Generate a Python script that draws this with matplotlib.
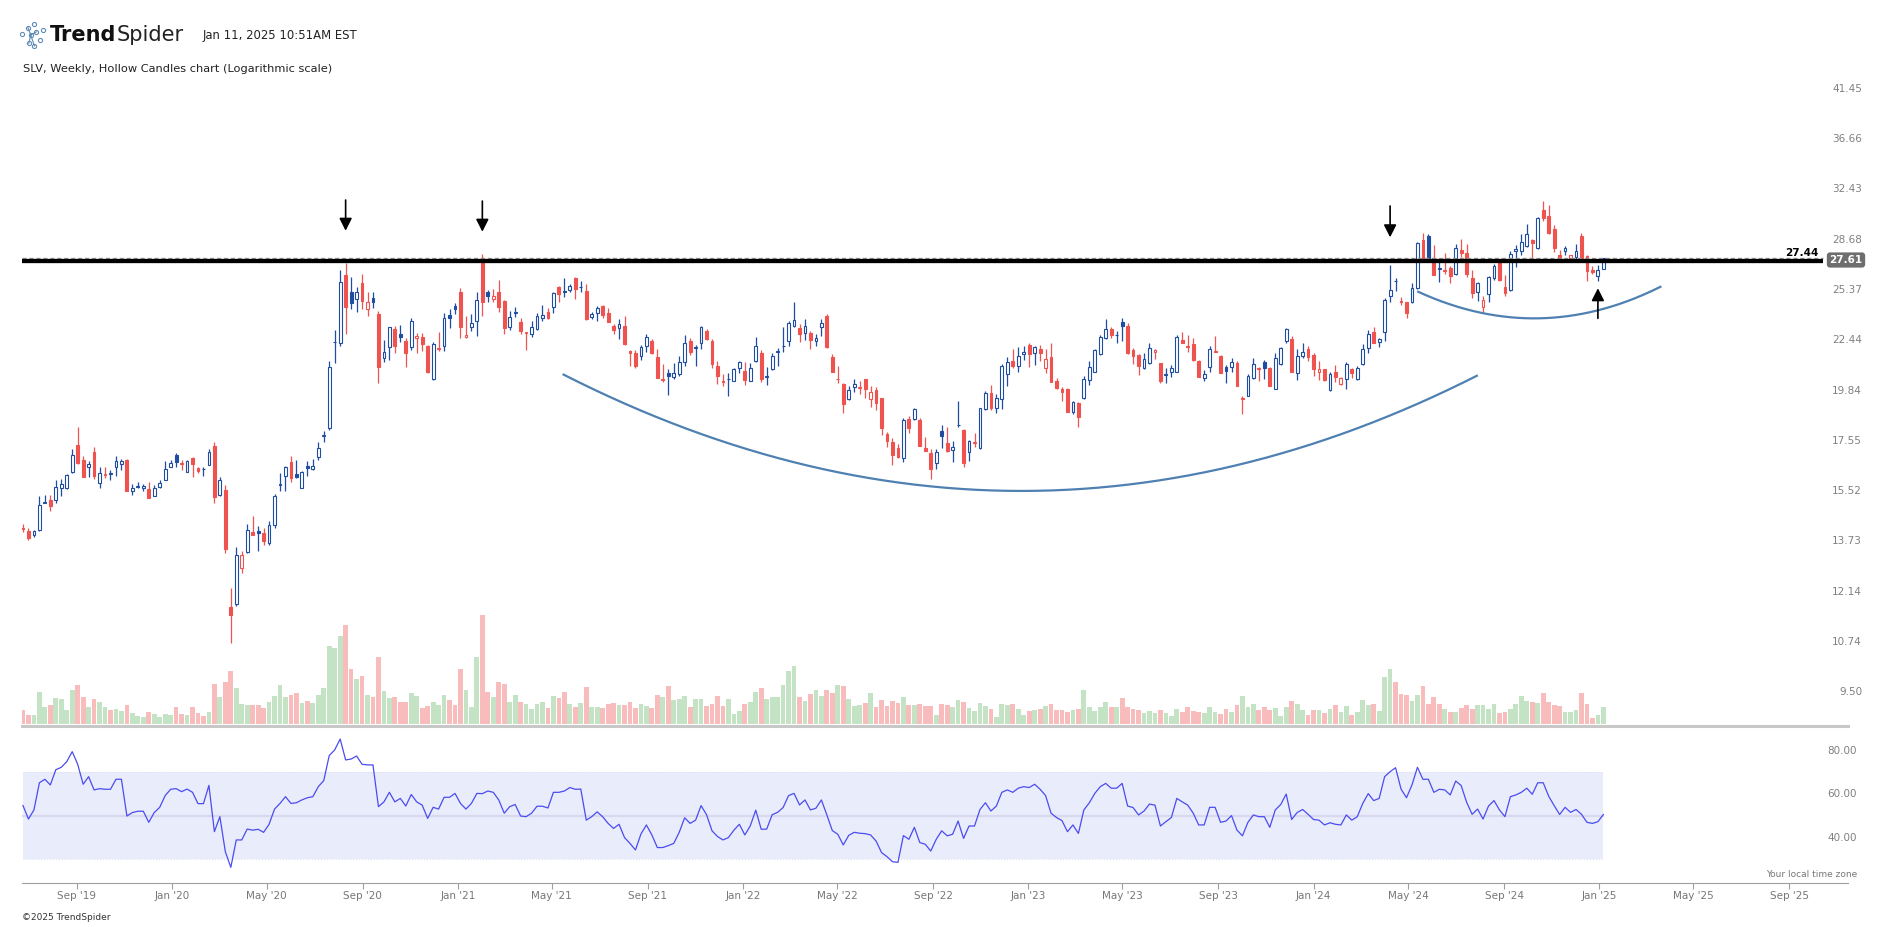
import numpy as np
import pandas as pd
import matplotlib
matplotlib.use("Agg")
import matplotlib.pyplot as plt
import matplotlib.dates as mdates
import matplotlib.transforms as mtransforms
from matplotlib.lines import Line2D

W, H = 1888, 927

# weekly candles, SLV
dates = pd.date_range("2019-06-24", periods=290, freq="7D")

opens = [14.29,14.18,14.03,14.20,15.20,15.30,15.30,15.77,15.77,16.39,
17.49,16.87,16.60,17.18,15.94,16.28,16.36,16.57,16.69,16.86,
15.64,15.79,15.74,15.71,15.43,15.81,16.07,16.60,17.07,16.75,
16.39,16.95,16.55,16.52,16.68,17.44,15.48,15.67,11.78,11.87,
12.97,13.48,14.16,14.19,14.12,13.77,14.38,15.87,16.22,16.78,
16.30,15.77,16.62,16.49,17.00,17.88,18.22,22.50,22.47,26.49,
25.40,24.97,25.96,24.39,25.07,24.10,21.62,22.21,23.21,22.94,
22.56,22.21,22.70,22.80,22.29,20.56,22.14,22.29,24.04,24.57,
25.40,22.77,23.36,23.70,27.66,25.42,24.99,25.40,24.87,23.32,
24.17,23.64,23.00,22.93,23.21,23.84,24.19,24.49,25.71,25.46,
25.58,26.28,25.73,25.48,23.94,24.13,24.57,24.13,23.40,23.26,
23.40,22.02,21.89,21.75,22.29,22.56,21.68,20.49,20.88,20.68,
20.81,21.45,22.56,22.19,22.43,23.11,22.56,21.22,20.46,20.54,
20.48,21.10,20.97,20.48,21.50,21.93,20.66,21.05,21.96,22.28,
22.58,23.40,23.26,22.98,22.98,22.58,23.32,23.98,21.68,20.54,
20.31,19.56,20.14,20.11,20.55,19.56,20.01,19.61,17.96,17.62,
17.36,16.97,18.63,18.63,18.60,17.36,17.15,16.73,18.11,17.60,
17.29,18.36,18.15,17.22,17.58,17.36,19.11,19.85,19.14,19.56,
20.80,21.49,21.24,21.84,22.34,21.89,22.10,21.10,21.68,20.46,
20.04,20.04,18.98,19.37,19.61,20.51,20.93,21.84,22.70,23.21,
22.87,23.61,23.40,22.07,21.80,21.10,21.36,21.95,21.36,20.78,
20.93,20.93,22.61,22.30,22.40,21.49,20.60,21.19,21.97,21.75,
21.15,21.15,21.40,19.59,19.74,20.63,21.14,21.45,21.10,20.06,
21.31,22.58,22.67,20.85,21.77,22.10,21.80,20.93,21.05,20.01,
20.93,20.31,20.56,21.05,20.56,21.31,22.19,23.04,22.49,23.08,
25.17,26.15,24.87,24.79,24.83,25.65,28.86,29.17,27.66,26.95,
26.78,26.99,26.60,28.20,28.00,26.28,25.44,24.53,25.30,26.28,
27.26,25.71,25.58,28.11,28.11,28.43,28.90,28.32,31.05,30.60,
29.69,27.86,28.09,27.60,27.71,29.14,27.77,26.82,26.45,26.92]

highs = [14.42,14.30,14.22,15.45,15.48,15.48,16.07,16.12,16.30,17.32,
18.28,17.03,16.82,17.40,16.57,16.57,16.46,17.03,16.90,16.90,
15.91,15.97,15.90,15.97,15.87,16.05,16.81,16.86,17.14,16.86,
16.87,17.00,16.60,16.60,17.32,17.61,16.20,15.88,12.34,13.63,
13.51,14.42,14.72,14.34,14.30,14.53,15.52,16.35,16.64,17.03,
16.86,16.44,16.83,16.92,17.64,18.11,21.46,23.17,26.82,27.30,
26.35,25.75,26.60,25.44,25.40,24.28,22.61,23.36,23.40,23.45,
22.70,23.88,22.98,22.98,22.32,22.52,23.08,24.17,24.37,24.73,
25.65,23.98,24.09,25.44,27.88,25.54,25.60,26.17,24.93,24.27,
24.53,23.84,23.06,23.68,24.13,24.63,24.43,25.44,25.79,26.28,
25.90,26.35,26.11,25.92,24.23,24.57,24.63,24.43,23.49,23.78,
23.98,22.07,22.07,22.34,22.94,22.67,22.12,21.33,21.07,21.40,
21.75,22.89,22.70,22.34,23.40,23.21,22.67,21.49,20.80,20.85,
21.10,21.50,21.45,21.40,22.80,22.07,21.19,21.89,22.16,23.36,
23.68,24.83,23.51,23.80,23.11,22.94,23.80,24.09,21.86,21.22,
20.35,20.21,20.55,20.48,20.58,20.21,20.18,19.64,18.04,17.79,
17.54,18.68,18.78,19.14,18.71,17.83,17.32,17.32,18.36,18.27,
17.65,19.50,18.18,17.72,18.01,19.17,19.96,20.26,19.82,21.33,
21.71,22.12,22.21,22.29,22.43,22.29,22.34,22.10,22.43,20.60,
20.14,20.09,19.48,19.42,20.71,21.49,22.10,22.89,23.78,23.36,
23.11,23.88,23.55,22.16,21.84,21.89,22.43,22.10,21.40,21.10,
21.27,22.89,23.08,22.89,22.70,21.52,21.02,22.29,22.83,21.80,
21.27,21.62,21.49,19.72,20.81,21.62,21.15,21.54,21.15,21.93,
22.25,23.30,22.85,22.10,22.43,22.29,21.89,21.49,21.07,20.93,
21.27,20.68,21.42,21.10,21.22,22.40,23.17,23.36,22.70,25.03,
27.15,26.32,25.09,24.83,25.96,28.74,29.40,29.33,28.50,27.44,
28.00,27.08,28.62,28.91,28.57,26.82,26.06,25.17,26.43,27.22,
27.37,26.49,28.09,28.50,29.33,30.01,28.97,30.55,31.74,31.43,
29.94,28.16,28.43,27.86,28.57,29.38,27.82,27.08,27.15,27.66]

lows = [14.14,13.87,13.99,14.19,15.18,14.91,15.18,15.43,15.72,16.33,
16.70,16.18,16.19,16.11,15.77,16.16,16.07,16.23,16.46,15.62,
15.49,15.77,15.64,15.38,15.43,15.77,16.07,16.57,16.60,16.46,
16.39,16.20,16.33,16.23,16.66,15.19,15.46,13.43,10.80,11.81,
12.81,13.43,14.03,13.49,13.70,13.72,14.30,15.65,15.65,15.97,
16.14,15.74,16.23,16.48,16.87,17.62,18.17,21.36,22.30,22.95,
24.37,24.23,24.39,23.98,24.47,20.38,21.45,21.54,21.93,22.52,
21.19,22.07,21.89,22.04,20.85,20.51,22.02,22.04,23.27,24.07,
22.70,22.70,23.13,22.85,23.98,24.83,24.83,24.23,22.94,23.17,
23.94,22.94,22.07,22.80,23.17,23.70,23.78,24.17,24.83,25.13,
25.44,24.99,25.44,23.74,23.78,23.70,23.88,23.61,22.92,22.65,
22.34,21.24,21.14,21.54,21.98,21.86,20.60,20.39,19.77,20.56,
20.73,21.22,21.80,21.22,22.12,22.61,21.14,20.31,20.23,19.74,
20.48,20.85,20.26,20.48,21.45,20.39,20.26,21.02,21.22,21.95,
22.30,23.36,22.52,22.61,22.12,22.30,22.85,22.18,20.90,20.38,
18.94,19.53,19.93,19.80,19.61,19.22,19.06,17.93,17.43,16.66,
16.97,16.80,18.03,18.60,17.44,17.23,16.12,16.49,17.39,17.22,
16.80,18.30,16.60,16.84,17.43,17.33,19.06,19.06,18.94,19.11,
20.21,21.10,20.93,21.54,21.19,21.27,21.50,20.88,20.39,20.06,
19.48,18.95,18.87,18.30,19.58,20.26,20.90,21.80,22.67,22.74,
22.47,22.58,21.86,21.33,20.77,21.07,21.33,21.59,20.38,20.38,
20.65,20.90,22.43,21.98,21.50,20.65,20.48,20.93,21.95,20.85,
20.38,20.93,20.20,18.88,19.71,20.56,20.46,20.56,20.20,20.04,
21.27,22.43,20.90,20.51,21.62,21.50,20.73,20.51,20.48,19.98,
20.43,20.26,20.04,20.63,20.51,21.27,21.93,22.43,22.25,22.58,
24.83,25.50,24.63,23.84,24.73,25.60,27.50,27.60,26.49,26.06,
26.54,26.02,26.49,27.71,26.35,25.03,24.89,24.23,24.79,26.17,
26.13,25.19,25.50,27.04,27.82,28.39,27.48,28.27,30.25,29.33,
28.04,27.48,27.82,27.48,27.55,27.55,26.13,26.60,26.13,26.88]

closes = [14.26,13.95,14.19,15.11,15.22,15.09,15.81,15.92,16.26,17.06,
16.73,16.20,16.71,16.24,16.33,16.30,16.32,16.81,16.82,15.62,
15.74,15.82,15.84,15.39,15.74,15.94,16.49,16.73,16.80,16.72,
16.82,16.69,16.43,16.49,17.18,15.42,16.07,13.57,11.55,13.38,
13.36,14.21,14.05,14.12,13.83,14.39,15.44,15.90,16.60,16.14,
16.18,16.37,16.53,16.62,17.35,17.91,21.16,22.53,26.03,24.49,
24.77,25.44,24.89,24.79,24.83,21.19,21.98,23.32,22.30,22.80,
21.89,23.68,22.85,22.38,20.93,22.40,22.17,23.84,23.86,24.41,
23.36,22.89,23.55,24.93,24.83,25.17,25.15,24.53,23.26,23.94,
24.20,23.13,23.04,23.32,23.98,24.04,23.88,25.34,25.33,25.40,
25.79,25.60,25.76,23.78,24.07,24.47,24.04,23.64,23.17,23.49,
22.40,21.89,21.24,22.21,22.76,21.89,20.63,20.55,20.73,20.85,
21.45,22.43,21.98,22.22,23.36,22.65,21.31,20.73,20.39,20.57,
21.05,21.42,20.51,21.10,22.29,20.56,20.69,21.77,21.99,22.31,
23.59,23.74,22.92,23.40,22.61,22.70,23.55,22.21,20.93,20.57,
19.33,20.01,20.30,20.14,20.06,19.93,19.40,18.22,17.69,17.07,
17.00,18.60,18.22,19.09,17.47,17.26,16.49,17.22,17.89,17.26,
17.40,18.39,16.73,17.65,17.61,19.14,19.85,19.14,19.61,21.22,
21.45,21.22,21.75,21.95,21.84,22.21,21.89,21.57,20.43,20.13,
19.90,18.98,19.43,18.75,20.55,21.15,22.07,22.80,23.21,22.89,
22.90,23.42,21.93,21.77,21.24,21.57,22.16,22.07,20.46,20.81,
21.10,22.80,22.47,22.21,21.54,20.68,20.80,22.10,22.03,20.88,
20.98,21.45,20.23,19.62,20.71,21.33,21.07,21.10,20.23,21.62,
22.19,23.23,20.93,21.75,21.98,21.68,21.07,21.06,20.51,20.80,
20.65,20.60,21.33,20.88,21.10,22.10,22.94,22.47,22.67,24.93,
25.54,26.12,24.79,24.13,25.65,28.69,27.55,27.64,26.49,26.92,
26.86,26.45,28.34,27.98,26.54,25.34,25.96,24.93,26.35,27.08,
26.17,25.38,27.93,28.27,28.74,29.26,28.67,30.50,30.45,29.38,
28.34,27.55,28.34,27.82,28.11,27.60,26.78,26.67,26.86,27.61]

# weekly volume, millions of shares
volume = [82,52,52,190,100,112,154,148,82,202,
232,160,100,148,130,100,82,88,76,112,
64,46,40,70,58,40,58,52,100,58,
52,100,64,46,70,238,160,250,316,214,
118,112,112,112,94,130,166,232,160,172,
184,124,136,124,172,214,466,454,526,592,
328,268,286,172,160,400,196,154,160,130,
130,184,166,94,106,130,112,172,142,112,
328,202,100,400,652,190,160,250,238,130,
172,130,118,88,118,130,94,166,154,190,
118,100,124,220,100,100,94,118,124,112,
112,130,94,118,106,94,172,160,226,142,
148,166,100,148,148,106,118,166,106,148,
58,76,118,130,190,214,148,160,160,232,
316,346,160,136,178,202,
166,202,184,232,226,148,106,112,124,184,
100,142,106,136,124,160,112,112,118,106,
106,52,118,112,100,142,130,94,76,124,
106,88,40,118,112,118,88,52,76,82,
88,106,118,82,82,70,82,88,202,100,
76,100,130,100,100,154,100,88,82,64,
76,64,82,64,46,88,70,100,76,70,
64,100,70,58,88,70,112,166,100,118,
82,100,82,94,46,100,136,118,82,52,
82,82,64,88,112,70,106,52,70,142,
112,118,76,280,328,250,178,172,136,172,
226,118,160,118,88,70,70,94,112,88,
112,112,88,118,64,70,88,118,166,136,
130,124,184,130,112,106,70,70,82,184,
118,34,52,100]

# RSI(14)
rsi = [54.7,48.5,52.7,65.2,66.8,64.2,71.2,72.3,74.9,79.5,
73.7,64.5,68.0,61.9,62.5,62.2,62.2,66.8,66.8,49.9,
51.5,52.1,52.1,47.0,51.5,53.9,59.3,62.2,62.5,61.1,
62.3,60.8,55.6,55.6,64.0,42.7,49.6,33.5,26.3,38.9,
38.9,43.9,43.4,43.8,42.4,46.1,53.1,55.7,58.8,55.7,
56.0,57.3,58.3,58.8,63.4,66.2,77.7,80.3,85.3,75.7,
76.1,77.5,73.7,73.4,73.4,54.2,56.4,60.8,56.4,58.0,
54.5,59.8,56.4,54.9,48.8,53.9,53.1,58.5,58.5,60.3,
55.7,53.1,55.7,60.3,60.2,61.4,60.8,57.3,51.2,54.2,
55.2,49.9,49.6,51.2,54.4,54.4,53.6,60.8,60.8,61.4,
63.0,62.2,62.3,48.0,49.6,51.8,49.6,46.5,44.2,46.1,
40.0,37.3,34.3,41.6,45.8,41.2,35.4,35.4,36.3,37.3,
42.4,49.1,46.5,48.0,54.7,50.5,43.1,40.5,38.9,40.0,
43.4,46.1,41.2,45.4,52.6,43.8,43.9,50.5,51.6,53.8,
59.3,60.3,55.0,57.3,52.7,53.5,
57.3,50.4,43.2,41.5,36.6,41.0,42.4,42.0,41.8,41.2,
38.4,33.1,31.2,28.9,28.6,40.9,39.2,44.7,37.7,36.9,
33.8,39.2,43.1,40.8,41.5,47.6,39.6,45.3,45.3,52.9,
56.0,52.2,54.5,60.8,61.9,60.8,62.7,63.4,63.0,64.5,
62.2,59.3,51.2,49.2,47.8,42.7,45.8,41.9,52.7,56.0,
60.3,63.4,64.9,62.7,62.7,64.9,54.5,53.8,50.4,52.2,
55.4,54.9,45.3,47.3,49.2,58.0,56.4,54.9,51.2,45.8,
45.8,53.9,53.9,47.0,47.6,50.1,43.4,40.8,47.0,50.4,
49.6,49.6,44.7,52.7,55.2,60.0,48.3,51.5,52.9,50.7,
48.3,48.0,45.8,46.8,46.1,45.8,50.4,48.0,49.6,55.7,
60.2,57.0,58.0,68.0,70.3,72.1,62.3,58.3,64.2,72.3,
66.8,66.8,60.8,62.2,61.9,59.6,66.0,63.9,56.2,50.7,
53.1,48.5,54.5,57.0,52.7,49.6,58.8,59.6,60.8,62.7,
59.9,65.2,65.2,59.0,54.7,50.6,53.9,51.6,52.9,50.7,
47.0,46.5,47.3,50.6]

price_ticks = [41.45, 36.66, 32.43, 28.68, 25.37, 22.44, 19.84, 17.55, 15.52, 13.73, 12.14, 10.74, 9.50]
rsi_ticks = [80, 60, 40]
xtick_dates = pd.date_range("2019-09-01", "2025-09-01", freq="4MS")
xtick_labels = [d.strftime("%b '%y") for d in xtick_dates]

# drawn annotations
level = 27.44
last_price = 27.61
big_arc_dates = ["2021-05-16", "2022-12-21", "2024-07-28"]
big_arc_prices = [20.78, 15.64, 20.72]
small_arc_dates = ["2024-05-14", "2024-10-10", "2025-03-20"]
small_arc_prices = [25.44, 23.84, 25.75]
arrow_dates = ["2020-08-10", "2021-02-01", "2024-04-08", "2024-12-30"]
arrow_from = [31.83, 31.75, 31.37, 23.84]
arrow_to = [29.53, 29.46, 29.06, 25.66]

UP = "#1f4ea1"
DN = "#ef5350"

fig = plt.figure(figsize=(W / 100, H / 100), dpi=100)
fig.patch.set_facecolor("white")


def rect(x0, y0, x1, y1):
    return [x0 / W, 1 - y1 / H, (x1 - x0) / W, (y1 - y0) / H]


x = mdates.date2num(dates)
px_day = 0.7812
xlim = (x[0] - 1.0 / px_day, x[0] + (1848 - 23) / px_day)

o = np.array(opens)
hi = np.array(highs)
lo = np.array(lows)
c = np.array(closes)
prev = np.r_[o[0], c[:-1]]
cols = np.where(c >= prev, UP, DN)
hollow = c > o

# volume panel (behind the candles)
axv = fig.add_axes(rect(22, 560, 1848, 724))
vcols = np.where(c >= o, "#c4e3c4", "#f9bcbc")
axv.bar(x, volume, width=6.1, color=vcols, linewidth=0)
axv.set_xlim(xlim)
axv.set_ylim(0, 984)
axv.axis("off")

# price panel
ax = fig.add_axes(rect(22, 70, 1848, 724))
ax.patch.set_visible(False)
ax.set_yscale("log")
ax.set_xlim(xlim)
ax.set_ylim(8.851, 43.73)
ax.axis("off")

ax.vlines(x, lo, hi, colors=cols, lw=0.9, zorder=2)
bot = np.minimum(o, c)
ht = np.maximum(np.abs(c - o), 0.02)
ax.bar(x, ht, bottom=bot, width=3.6, color=np.where(hollow, "white", cols),
       edgecolor=cols, linewidth=0.8, zorder=3)

x_end = x[0] + (1823 - 23) / px_day
ax.plot([xlim[0], x_end], [last_price] * 2, color="#9a9a9a", lw=1.0,
        dashes=(3, 2), zorder=4)
ax.plot([xlim[0], x_end], [level] * 2, color="black", lw=3.1, zorder=5,
        solid_capstyle="butt")


def arc(ds, ps):
    d = mdates.date2num(pd.to_datetime(ds))
    k = np.polyfit(d, np.log(ps), 2)
    t = np.linspace(d[0], d[-1], 300)
    ax.plot(t, np.exp(np.polyval(k, t)), color="#4f80b2", lw=1.6, zorder=4)


arc(big_arc_dates, big_arc_prices)
arc(small_arc_dates, small_arc_prices)

for d, p0, p1 in zip(arrow_dates, arrow_from, arrow_to):
    xd = mdates.date2num(pd.Timestamp(d))
    ax.annotate("", xy=(xd, p1), xytext=(xd, p0),
                arrowprops=dict(arrowstyle="-|>,head_length=0.75,head_width=0.38",
                                color="black", lw=1.2, shrinkA=0, shrinkB=0,
                                mutation_scale=10), zorder=6)

# price labels on the right
tr = mtransforms.blended_transform_factory(fig.transFigure, ax.transData)
tr = mtransforms.offset_copy(tr, fig=fig, y=3, units="dots")
for p in price_ticks:
    ax.text(1862 / W, p, f"{p:.2f}", transform=tr, ha="right", va="center",
            fontsize=7.5, color="#808080", clip_on=False)

fig.text(1818 / W, 1 - 255.5 / H, f"{level:.2f}", ha="right", va="baseline",
         fontsize=7.5, fontweight="bold", color="black")
fig.text(1846 / W, 1 - 260 / H, f"{last_price:.2f}", ha="center", va="center",
         fontsize=7.5, fontweight="bold", color="white",
         bbox=dict(boxstyle="round,pad=0.25,rounding_size=0.3", fc="#6e6e6e", ec="none"))

# volume baseline
fig.add_artist(Line2D([22 / W, 1848 / W], [1 - 726 / H] * 2, color="#c8c8c8", lw=2.2))

# RSI panel
axr = fig.add_axes(rect(22, 736, 1848, 882.5))
axr.set_xlim(xlim)
axr.set_ylim(19.33, 86.7)
axr.fill_between([x[0], x[-1]], 30, 70, color="#e9ecfa", lw=0)
axr.plot([x[0], x[-1]], [70, 70], color="#dde1f5", lw=0.8, ls=":")
axr.plot([x[0], x[-1]], [30, 30], color="#dde1f5", lw=0.8, ls=":")
axr.plot([x[0], x[-1]], [50, 50], color="#d8d9ef", lw=1.6)
axr.plot(x, rsi, color="#4b4cf0", lw=0.9)
for s in ["top", "left", "right"]:
    axr.spines[s].set_visible(False)
axr.spines["bottom"].set_color("#a0a0a0")
axr.set_yticks([])
axr.set_xticks(mdates.date2num(xtick_dates))
axr.set_xticklabels(xtick_labels)
axr.tick_params(axis="x", length=4, width=0.8, color="#a0a0a0", pad=2,
                labelsize=7.5, labelcolor="#777777")

trr = mtransforms.blended_transform_factory(fig.transFigure, axr.transData)
for r in rsi_ticks:
    axr.text(1857 / W, r, f"{r:.2f}", transform=trr, ha="right", va="center",
             fontsize=7.5, color="#808080", clip_on=False)
fig.text(1857 / W, 1 - 877 / H, "Your local time zone", ha="right", va="baseline",
         fontsize=6.5, color="#777777")

# header
axl = fig.add_axes(rect(19, 22, 47, 48))
axl.set_xlim(0, 1)
axl.set_ylim(0, 1)
axl.axis("off")
nodes_x = [0.12, 0.32, 0.52, 0.42, 0.62, 0.85, 0.35, 0.75, 0.55]
nodes_y = [0.55, 0.78, 0.92, 0.50, 0.62, 0.70, 0.18, 0.30, 0.08]
for i in [1, 4, 6, 8]:
    axl.plot([0.42, nodes_x[i]], [0.5, nodes_y[i]], color="#5f8db5", lw=0.8)
axl.scatter(nodes_x, nodes_y, s=9, facecolors="white", edgecolors="#5f8db5", linewidths=0.8)

t1 = fig.text(50 / W, 1 - 40.7 / H, "Trend", fontsize=15, fontweight="bold",
              color="#111111", va="baseline")
fig.canvas.draw()
bb = t1.get_window_extent()
fig.text((bb.x1 + 0.5) / W, 1 - 40.7 / H, "Spider", fontsize=15, fontweight="normal",
         color="#222222", va="baseline")
fig.text(203 / W, 1 - 39.5 / H, "Jan 11, 2025 10:51AM EST", fontsize=8.4,
         color="#222222", va="baseline")
fig.text(23 / W, 1 - 72 / H, "SLV, Weekly, Hollow Candles chart (Logarithmic scale)",
         fontsize=8.2, color="#222222", va="baseline")
fig.text(22 / W, 1 - 920 / H, "\u00a92025 TrendSpider", fontsize=6.5,
         color="#333333", va="baseline")

fig.savefig("out.png", dpi=100, facecolor="white")
